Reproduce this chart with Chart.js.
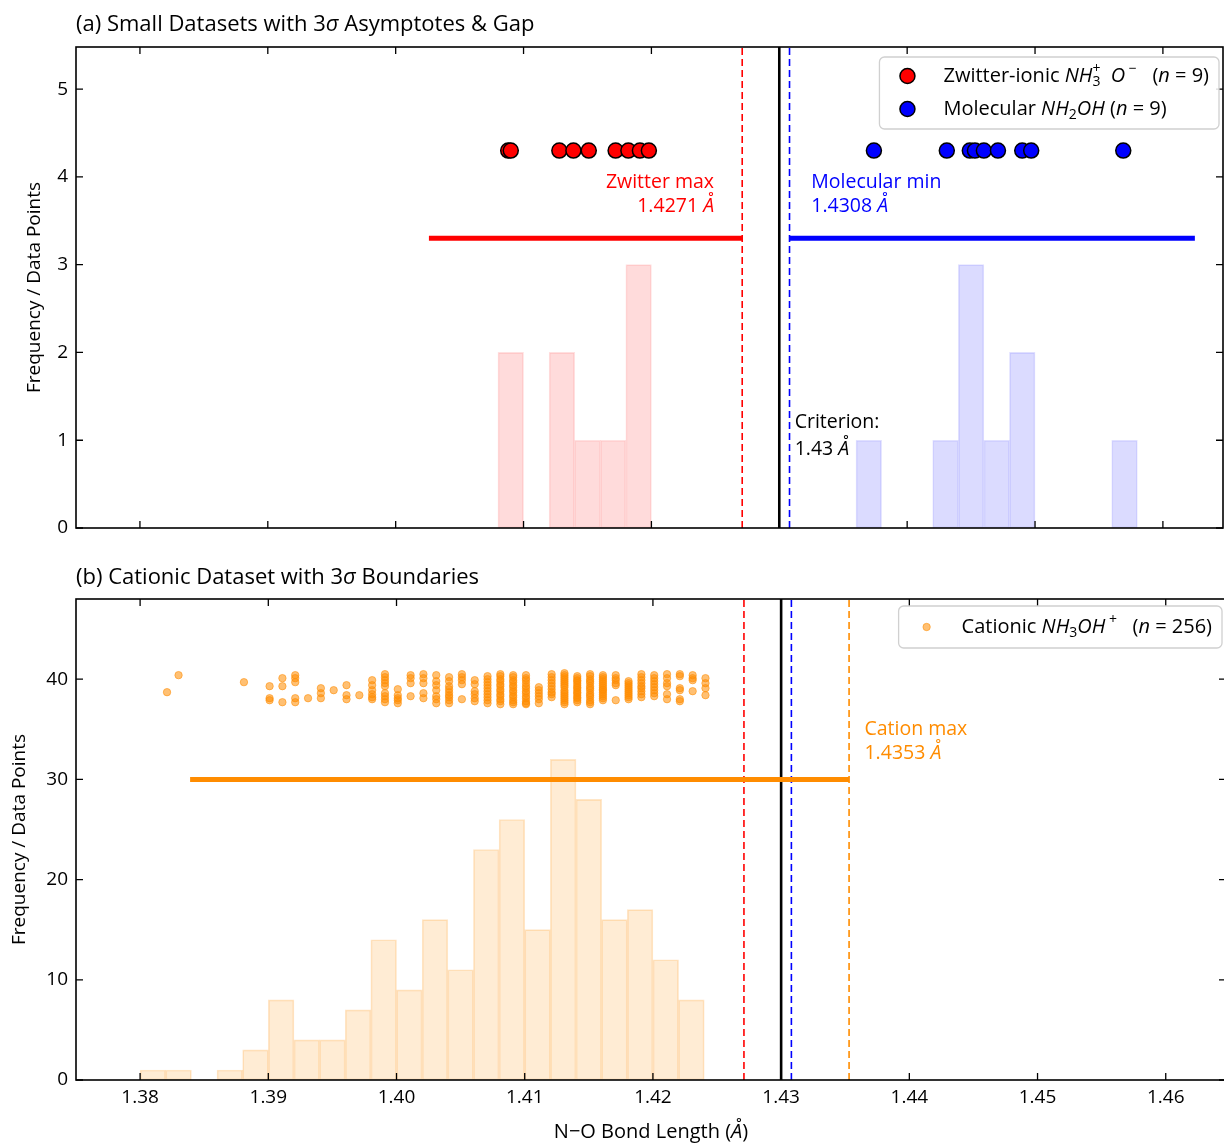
<!DOCTYPE html>
<html>
<head>
<meta charset="utf-8">
<script src="https://cdn.jsdelivr.net/npm/chart.js@4.4.1/dist/chart.umd.min.js"></script>
<style>
  html, body { margin: 0; padding: 0; background: #fff; overflow: hidden; }
  body { width: 1224px; height: 1144px; position: relative; }
  canvas { position: absolute; left: 0; }
  #smallChart { top: 0; }
  #cationChart { top: 550px; }
</style>
</head>
<body>
<canvas id="smallChart" width="1232" height="548"></canvas>
<canvas id="cationChart" width="1232" height="594"></canvas>
<script>
const FONT = '"Open Sans", Roboto, sans-serif';

// N-O bond lengths (Å), panel (a)
const zwitterLengths = [1.4088, 1.4090, 1.4128, 1.4139, 1.4151, 1.4172, 1.4182, 1.4191, 1.4198];
const molecularLengths = [1.4374, 1.4431, 1.4449, 1.4453, 1.4460, 1.4471, 1.4490, 1.4497, 1.4569];

// histogram bins (left edge, count), bin width 0.002 Å
const binWidth = 0.002;
const zwitterBinLeft = [1.408, 1.412, 1.414, 1.416, 1.418];
const zwitterBinCount = [2, 2, 1, 1, 3];
const molecularBinLeft = [1.436, 1.442, 1.444, 1.446, 1.448, 1.456];
const molecularBinCount = [1, 1, 3, 1, 2, 1];

// panel (b): cationic set
const cationBinLeft = [1.380, 1.382, 1.384, 1.386, 1.388, 1.390, 1.392, 1.394, 1.396, 1.398, 1.400,
                       1.402, 1.404, 1.406, 1.408, 1.410, 1.412, 1.414, 1.416, 1.418, 1.420, 1.422];
const cationBinCount = [1, 1, 0, 1, 3, 8, 4, 4, 7, 14, 9, 16, 11, 23, 26, 15, 32, 28, 16, 17, 12, 8];

// strip plot: bond length columns and the jittered heights of their points
const cationColumnX = [1.3821, 1.3830, 1.3881, 1.3901, 1.3911, 1.3921, 1.3931, 1.3941, 1.3951, 1.3961,
                       1.3971, 1.3981, 1.3991, 1.4001, 1.4011, 1.4021, 1.4031, 1.4041, 1.4051, 1.4061,
                       1.4071, 1.4081, 1.4091, 1.4101, 1.4111, 1.4121, 1.4131, 1.4141, 1.4151, 1.4161,
                       1.4171, 1.4181, 1.4191, 1.4201, 1.4211, 1.4221, 1.4231, 1.4241];
const cationColumnY = [
  [38.7],
  [40.4],
  [39.7],
  [39.3, 38.1, 37.9],
  [40.1, 39.3, 37.7],
  [40.4, 40.1, 39.7, 38.1, 37.7],
  [38.1],
  [39.1, 38.6, 38.1],
  [38.9],
  [39.4, 38.4, 38.0],
  [38.4],
  [39.9, 39.4, 38.9, 38.5, 38.2, 38.0],
  [40.5, 40.2, 39.9, 39.6, 39.3, 38.6, 38.3, 38.0, 37.7],
  [39.0, 38.4, 38.1, 37.9, 37.6],
  [40.4, 40.1, 39.6, 38.3],
  [40.5, 40.1, 39.6, 38.6, 38.1],
  [40.4, 39.8, 39.4, 38.9, 38.3, 38.0, 37.6],
  [40.2, 39.8, 39.3, 39.0, 38.7, 38.4, 38.2, 37.9, 37.6],
  [40.5, 40.2, 39.9, 39.5, 38.0],
  [39.9, 39.5, 38.8, 38.5, 38.1, 37.8],
  [40.3, 40.0, 39.7, 39.4, 39.1, 38.8, 38.5, 38.2, 37.9, 37.6],
  [40.5, 40.3, 40.0, 39.8, 39.5, 39.3, 39.0, 38.8, 38.5, 38.3, 38.0, 37.8, 37.5],
  [40.4, 40.2, 39.9, 39.7, 39.4, 39.2, 38.9, 38.7, 38.4, 38.2, 37.9, 37.7, 37.5],
  [40.4, 40.1, 39.9, 39.6, 39.3, 39.1, 38.8, 38.6, 38.3, 38.1, 37.8, 37.6, 37.5],
  [39.2, 38.9, 38.6, 38.3, 38.0, 37.6],
  [40.5, 40.2, 39.9, 39.6, 39.3, 39.0, 38.7, 38.5, 38.2],
  [40.6, 40.4, 40.2, 40.0, 39.8, 39.6, 39.4, 39.2, 38.9, 38.7, 38.5, 38.3, 38.1, 37.9, 37.7, 37.5],
  [40.3, 40.1, 39.9, 39.8, 39.6, 39.4, 39.2, 39.1, 38.9, 38.7, 38.6, 38.4, 38.2, 38.1, 37.9, 37.7],
  [40.5, 40.3, 40.0, 39.8, 39.6, 39.3, 39.1, 38.9, 38.6, 38.4, 38.2, 37.9, 37.7, 37.5],
  [40.4, 40.2, 40.0, 39.8, 39.6, 39.4, 39.2, 39.0, 38.9, 38.7, 38.5, 38.3, 38.1, 37.9],
  [40.4, 40.1, 39.9, 39.6, 39.4, 37.9],
  [39.8, 39.6, 39.4, 39.2, 39.0, 38.8, 38.6, 38.4, 38.2, 38.0],
  [40.5, 40.2, 39.9, 39.6, 39.3, 39.1, 38.8, 38.5, 38.2],
  [40.4, 40.1, 39.8, 39.5, 39.2, 38.9, 38.6, 38.3],
  [40.5, 40.1, 39.6, 39.3, 38.5, 38.0],
  [40.5, 40.3, 39.1, 38.9, 38.0, 37.8],
  [40.4, 40.1, 39.9, 38.8],
  [40.1, 39.6, 39.1, 38.4]
];

// reference values (Å)
const criterion = 1.43;
const zwitterLow = 1.4026, zwitterMax = 1.4271;
const molecularMin = 1.4308, molecularHigh = 1.4625;
const cationLow = 1.3839, cationMax = 1.4353;

// vertical placement of the strips and 3-sigma bars
const pointRowY = 4.3, sigmaRowY = 3.3, cationSigmaY = 30;
const smallYMax = 5.48, cationYMax = 48;

const histPoints = (lefts, counts) =>
  lefts.map((l, i) => ({x: l + binWidth / 2, y: counts[i]})).filter(p => p.y > 0);
const cationPoints = cationColumnX.flatMap((x, i) => cationColumnY[i].map(y => ({x, y})));

const histStyle = (fill, edge) => ({
  type: 'bar', backgroundColor: fill, borderColor: edge, borderWidth: 1,
  borderSkipped: false, barPercentage: 1, categoryPercentage: 1, grouped: false, order: 6
});
const vline = (x, top, color, width, dash) => ({
  type: 'line', data: [{x, y: 0}, {x, y: top}], borderColor: color, borderWidth: width,
  borderDash: dash || [], pointRadius: 0, order: 4
});
const hline = (x0, x1, y, color) => ({
  type: 'line', data: [{x: x0, y}, {x: x1, y}], borderColor: color, borderWidth: 5,
  borderCapStyle: 'butt', pointRadius: 0, order: 3
});

// text with italic / sub / sup runs; a run flagged 'hold' does not advance (stacked sub+sup)
function runFont(style, size) {
  const small = style.includes('sub') || style.includes('sup');
  return (style.includes('i') ? 'italic ' : '') + (small ? size * 0.7 : size) + 'px ' + FONT;
}
function richWidth(ctx, runs, size) {
  let w = 0, held = 0;
  for (const [t, s = ''] of runs) {
    ctx.font = runFont(s, size);
    const m = ctx.measureText(t).width;
    if (s.includes('hold')) { held = m; continue; }
    w += Math.max(m, held); held = 0;
  }
  return w;
}
function drawRich(ctx, runs, x, y, size, color, align) {
  const w = richWidth(ctx, runs, size);
  let cx = align === 'right' ? x - w : align === 'center' ? x - w / 2 : x;
  let held = 0;
  ctx.fillStyle = color;
  ctx.textBaseline = 'middle';
  ctx.textAlign = 'left';
  for (const [t, s = ''] of runs) {
    ctx.font = runFont(s, size);
    const dy = s.includes('sub') ? size * 0.3 : s.includes('sup') ? -size * 0.35 : 0;
    ctx.fillText(t, cx, y + dy);
    const m = ctx.measureText(t).width;
    if (s.includes('hold')) { held = m; continue; }
    cx += Math.max(m, held); held = 0;
  }
}

// spines plus inward ticks on all four sides
const frame = {
  id: 'frame',
  afterDatasetsDraw(chart) {
    const {ctx, chartArea: a, scales: {x, y}} = chart;
    ctx.save();
    ctx.strokeStyle = '#000';
    ctx.lineWidth = 1.3;
    ctx.beginPath();
    for (const t of x.ticks) {
      const px = x.getPixelForValue(t.value);
      ctx.moveTo(px, a.bottom); ctx.lineTo(px, a.bottom - 7);
      ctx.moveTo(px, a.top); ctx.lineTo(px, a.top + 7);
    }
    for (const t of y.ticks) {
      const py = y.getPixelForValue(t.value);
      ctx.moveTo(a.left, py); ctx.lineTo(a.left + 7, py);
      ctx.moveTo(a.right, py); ctx.lineTo(a.right - 7, py);
    }
    ctx.stroke();
    ctx.lineWidth = 1.6;
    ctx.strokeRect(a.left, a.top, a.right - a.left, a.bottom - a.top);
    ctx.restore();
  }
};

// panel title, annotations, x title and legend box
const notes = {
  id: 'notes',
  afterDraw(chart, args, o) {
    const {ctx, chartArea: a, scales: {x, y}} = chart;
    ctx.save();
    drawRich(ctx, o.title, a.left, o.titleY, 22, '#000', 'left');
    for (const n of o.labels) {
      const px = x.getPixelForValue(n.x), py = y.getPixelForValue(n.y);
      n.lines.forEach((runs, i) => drawRich(ctx, runs, px, py + i * n.step, 19.5, n.color, n.align));
    }
    if (o.xTitle) drawRich(ctx, o.xTitle, (a.left + a.right) / 2, o.xTitleY, 20, '#000', 'center');

    const L = o.legend;
    const textW = Math.max(...L.rows.map(r => richWidth(ctx, r.runs, 20)));
    const right = a.right - 4, left = right - (L.textDx + textW + 10), top = a.top + L.dy;
    ctx.beginPath();
    ctx.roundRect(left, top, right - left, L.height, 5);
    ctx.fillStyle = 'rgba(255,255,255,0.85)';
    ctx.fill();
    ctx.strokeStyle = '#d0d0d0';
    ctx.lineWidth = 1.3;
    ctx.stroke();
    L.rows.forEach((r, i) => {
      const ds = chart.data.datasets[r.dataset];
      const cy = top + L.firstRow + i * L.rowH;
      ctx.beginPath();
      ctx.arc(left + 28, cy, ds.pointRadius, 0, Math.PI * 2);
      ctx.fillStyle = ds.backgroundColor;
      ctx.fill();
      ctx.lineWidth = ds.borderWidth;
      ctx.strokeStyle = ds.borderColor;
      ctx.stroke();
      drawRich(ctx, r.runs, left + L.textDx, cy, 20, '#000', 'left');
    });
    ctx.restore();
  }
};

function scalesFor(yMax, yStep, showX, yTitlePad) {
  const tickFont = {family: FONT, size: 19};
  return {
    x: {
      type: 'linear', min: 1.375, max: 1.4647, offset: false,
      grid: {display: false, drawTicks: false, offset: false}, border: {display: false},
      ticks: {display: showX, stepSize: 0.01, includeBounds: false, padding: 6, color: '#000',
              font: tickFont, maxRotation: 0, autoSkip: false, callback: v => v.toFixed(2)},
      afterFit: s => { s.height = showX ? 64 : 20; }
    },
    y: {
      min: 0, max: yMax,
      grid: {display: false, drawTicks: false}, border: {display: false},
      ticks: {stepSize: yStep, includeBounds: false, padding: 8, color: '#000', font: tickFont},
      title: {display: true, text: 'Frequency / Data Points', color: '#000', font: tickFont,
              padding: {top: yTitlePad, bottom: 0}},
      afterFit: s => { s.width = 76; }
    }
  };
}

const baseOptions = {
  responsive: false, animation: false, events: [], devicePixelRatio: 1
};

new Chart(document.getElementById('smallChart'), {
  type: 'scatter',
  data: {
    datasets: [
      {label: 'Zwitter-ionic', data: zwitterLengths.map(x => ({x, y: pointRowY})),
       backgroundColor: 'red', borderColor: '#000', borderWidth: 1.5, pointRadius: 7.5, order: 1},
      {label: 'Molecular', data: molecularLengths.map(x => ({x, y: pointRowY})),
       backgroundColor: 'blue', borderColor: '#000', borderWidth: 1.5, pointRadius: 7.5, order: 1},
      {data: histPoints(zwitterBinLeft, zwitterBinCount), ...histStyle('rgba(255,0,0,0.14)', 'rgba(255,0,0,0.12)')},
      {data: histPoints(molecularBinLeft, molecularBinCount), ...histStyle('rgba(0,0,255,0.14)', 'rgba(0,0,255,0.12)')},
      hline(zwitterLow, zwitterMax, sigmaRowY, 'red'),
      hline(molecularMin, molecularHigh, sigmaRowY, 'blue'),
      vline(zwitterMax, smallYMax, 'red', 1.6, [7, 4]),
      vline(molecularMin, smallYMax, 'blue', 1.6, [7, 4]),
      vline(criterion, smallYMax, '#000', 2.6)
    ]
  },
  options: {
    ...baseOptions,
    layout: {padding: {top: 47, right: 6, bottom: 0, left: 0}},
    scales: scalesFor(smallYMax, 1, false, 23),
    plugins: {
      legend: {display: false}, tooltip: {enabled: false},
      notes: {
        title: [['(a) Small Datasets with 3'], ['σ', 'i'], [' Asymptotes & Gap']],
        titleY: 25,
        labels: [
          {x: zwitterMax - 0.0022, y: 3.94, step: 24, color: 'red', align: 'right',
           lines: [[['Zwitter max']], [['1.4271 '], ['Å', 'i']]]},
          {x: molecularMin + 0.0017, y: 3.94, step: 24, color: 'blue', align: 'left',
           lines: [[['Molecular min']], [['1.4308 '], ['Å', 'i']]]},
          {x: criterion + 0.0012, y: 1.2, step: 27, color: '#000', align: 'left',
           lines: [[['Criterion:']], [['1.43 '], ['Å', 'i']]]}
        ],
        legend: {
          dy: 10, height: 72, firstRow: 19, rowH: 33, textDx: 64,
          rows: [
            {dataset: 0, runs: [['Zwitter-ionic '], ['NH', 'i'], ['3', 'sub hold'], ['+', 'sup'], ['  O', 'i'],
                                [' \u2212', 'sup'], ['   ('], ['n', 'i'], [' = 9)']]},
            {dataset: 1, runs: [['Molecular '], ['NH', 'i'], ['2', 'sub'], ['OH', 'i'], [' ('], ['n', 'i'], [' = 9)']]}
          ]
        }
      }
    }
  },
  plugins: [frame, notes]
});

new Chart(document.getElementById('cationChart'), {
  type: 'scatter',
  data: {
    datasets: [
      {label: 'Cationic', data: cationPoints, backgroundColor: 'rgba(255,140,0,0.55)',
       borderColor: 'rgba(255,140,0,0.55)', borderWidth: 1, pointRadius: 3.7, order: 1},
      {data: histPoints(cationBinLeft, cationBinCount), ...histStyle('rgba(255,140,0,0.17)', 'rgba(255,140,0,0.22)')},
      hline(cationLow, cationMax, cationSigmaY, 'darkorange'),
      vline(zwitterMax, cationYMax, 'red', 1.6, [7, 4]),
      vline(molecularMin, cationYMax, 'blue', 1.6, [7, 4]),
      vline(cationMax, cationYMax, 'darkorange', 1.6, [7, 4]),
      vline(criterion, cationYMax, '#000', 2.6)
    ]
  },
  options: {
    ...baseOptions,
    layout: {padding: {top: 49, right: 6, bottom: 0, left: 0}},
    scales: scalesFor(cationYMax, 10, true, 8),
    plugins: {
      legend: {display: false}, tooltip: {enabled: false},
      notes: {
        title: [['(b) Cationic Dataset with 3'], ['σ', 'i'], [' Boundaries']],
        titleY: 28,
        xTitle: [['N\u2212O Bond Length ('], ['Å', 'i'], [')']],
        xTitleY: 582,
        labels: [
          {x: cationMax + 0.0012, y: 35.0, step: 24, color: 'darkorange', align: 'left',
           lines: [[['Cation max']], [['1.4353 '], ['Å', 'i']]]}
        ],
        legend: {
          dy: 7, height: 42, firstRow: 21, rowH: 33, textDx: 63,
          rows: [
            {dataset: 0, runs: [['Cationic '], ['NH', 'i'], ['3', 'sub'], ['OH', 'i'], [' +', 'sup'],
                                ['   ('], ['n', 'i'], [' = 256)']]}
          ]
        }
      }
    }
  },
  plugins: [frame, notes]
});
</script>
</body>
</html>
